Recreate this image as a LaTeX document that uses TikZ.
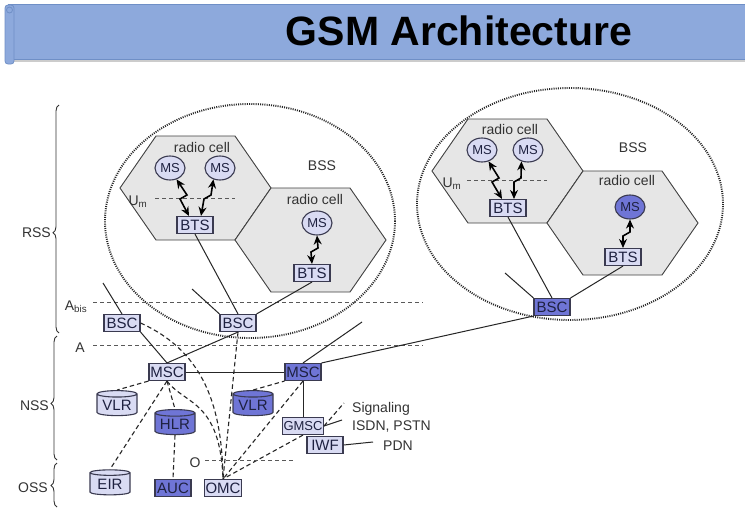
\documentclass[tikz,border=0pt]{standalone}
\usepackage{fontspec}
\setmainfont{Liberation Sans}
\usetikzlibrary{shapes.geometric,arrows.meta,decorations.pathreplacing}
\definecolor{lt}{HTML}{D9DBF3}
\definecolor{dk}{HTML}{6F75D6}
\definecolor{bd}{HTML}{3A3A50}
\definecolor{tx}{HTML}{1E2140}
\definecolor{hexfill}{HTML}{E6E6E6}
\definecolor{barfill}{HTML}{8DA9DC}
\definecolor{barline}{HTML}{6F8FC6}
\definecolor{lbl}{HTML}{333333}
\newcommand\pxf[1]{\fontsize{#1}{#1}\selectfont}
\newcommand\hexat[2]{\draw[hexstyle] (#1,#2) -- ++(36,-52) -- ++(79,0) -- ++(36,52) -- ++(-36,52) -- ++(-79,0) -- cycle;}
\begin{document}
\begin{tikzpicture}[x=1pt,y=-1pt,
  hexstyle/.style={fill=hexfill,draw=black!75,line width=0.9pt},
  bss/.style={draw=black!85,line width=1.9pt,dash pattern=on 1pt off 1.2pt},
  box/.style={rectangle,draw=bd,line width=1.1pt,fill=lt,inner sep=1pt,minimum width=36pt,minimum height=17pt,font=\pxf{15},text=tx},
  dbox/.style={box,fill=dk},
  msnode/.style={ellipse,draw=bd,line width=1.1pt,fill=lt,inner sep=0pt,minimum width=30pt,minimum height=24pt,font=\pxf{13},text=tx},
  dbnode/.style={cylinder,shape border rotate=90,aspect=0.22,draw=bd,line width=1.1pt,fill=lt,inner sep=0pt,minimum width=40pt,minimum height=25pt,font=\pxf{15},text=tx},
  ddbnode/.style={dbnode,fill=dk},
  conn/.style={draw=black!85,line width=1pt},
  dconn/.style={draw=black!85,line width=1.1pt,dash pattern=on 4.5pt off 3pt},
  iface/.style={draw=black!65,line width=1pt,dash pattern=on 4pt off 3pt},
  bolt/.style={line width=1.6pt,{Stealth[length=9pt,width=8pt]}-{Stealth[length=9pt,width=8pt]}},
  lab/.style={font=\pxf{14},text=lbl,inner sep=0pt},
  brc/.style={draw=black!80,line width=0.9pt,decorate}]
\useasboundingbox (0,0) rectangle (745,522);
\fill[white] (0,0) rectangle (745,522);
% title bar
\fill[black!20] (8,58) rectangle (745,62);
\draw[barline,fill=barfill,line width=0.8pt] (8,4) rectangle (746,59);
\draw[barline,fill=barfill,line width=0.8pt,rounded corners=3pt] (5,5) rectangle (14,64);
\draw[barline,line width=0.8pt] (9.5,10) circle (3);
\node[font=\pxf{41}\bfseries,text=black,inner sep=0pt] (title) at (459,31) {GSM Architecture};
% BSS ellipses
\draw[bss] (250,221) ellipse [x radius=145, y radius=117];
\draw[bss] (570,204) ellipse [x radius=153, y radius=116];
% hexagons
\hexat{120}{188}
\hexat{235}{240}
\hexat{432}{171}
\hexat{547}{223}
% interface lines
\draw[iface] (93,302) -- (423,302);
\draw[iface] (93,345) -- (423,345);
\draw[iface] (155,198) -- (235,198);
\draw[iface] (467,180) -- (547,180);
% labels
\node[lab] (rc1) at (202,147) {radio cell};
\node[lab] (rc2) at (315,199) {radio cell};
\node[lab] (rc3) at (510,129) {radio cell};
\node[lab] (rc4) at (627,180) {radio cell};
\node[lab] (bss1) at (322,166) {BSS};
\node[lab] (bss2) at (633,148) {BSS};
\node[lab] (um1) at (138,202) {U\textsubscript{m}};
\node[lab] (um2) at (452,184) {U\textsubscript{m}};
\node[lab,anchor=east] (rss) at (51,233) {RSS};
\node[lab,anchor=east] (nss) at (49,406) {NSS};
\node[lab,anchor=east] (oss) at (48,488) {OSS};
\node[lab] (abis) at (76,307) {A\textsubscript{bis}};
\node[lab] (alab) at (80,348) {A};
\node[lab] (olab) at (195,463) {O};
\node[lab,anchor=west] (sig) at (352,409) {Signaling};
\node[lab,anchor=west] (isdn) at (352,427) {ISDN, PSTN};
\node[lab,anchor=west] (pdn) at (383,446) {PDN};
% braces
\draw[brc,decoration={brace,amplitude=6pt,aspect=0.44}] (59,333) -- (59,105);
\draw[brc,decoration={brace,amplitude=6pt,aspect=0.455}] (57,460) -- (57,336);
\draw[brc,decoration={brace,amplitude=6pt,aspect=0.49}] (57,507) -- (57,463);
% nodes
\node[msnode] (ms1) at (170,168) {MS};
\node[msnode] (ms2) at (220,168) {MS};
\node[box] (bts1) at (195,225) {BTS};
\node[msnode] (ms3) at (317,223) {MS};
\node[box] (bts2) at (312,273) {BTS};
\node[msnode] (ms4) at (482,150) {MS};
\node[msnode] (ms5) at (528,150) {MS};
\node[box] (bts3) at (508,208) {BTS};
\node[msnode,fill=dk] (ms6) at (630,207) {MS};
\node[box] (bts4) at (623,257) {BTS};
\node[box] (bsc1) at (122,323) {BSC};
\node[box] (bsc2) at (238,323) {BSC};
\node[dbox] (bsc3) at (552,307) {BSC};
\node[box] (msc1) at (167,372) {MSC};
\node[dbox] (msc2) at (303,372) {MSC};
\node[dbnode] (vlr1) at (117,405) {VLR};
\node[ddbnode] (hlr) at (175,424) {HLR};
\node[ddbnode] (vlr2) at (253,405) {VLR};
\node[dbnode] (eir) at (110,484) {EIR};
\node[dbox] (auc) at (173,488) {AUC};
\node[box] (omc) at (223,488) {OMC};
\node[box,font=\pxf{13}] (gmsc) at (303,426) {GMSC};
\node[box] (iwf) at (325,445) {IWF};
% radio links
\draw[bolt] (ms1.-60) -- (187,195) -- (180,199) -- ([xshift=-6pt]bts1.north);
\draw[bolt] (ms2.-120) -- (211,195) -- (204,199) -- ([xshift=6pt]bts1.north);
\draw[bolt] (ms3.south) -- (318,248) -- (311,252) -- (bts2.north);
\draw[bolt] (ms4.-60) -- (499,178) -- (492,182) -- ([xshift=-6pt]bts3.north);
\draw[bolt] (ms5.-120) -- (521,178) -- (514,182) -- ([xshift=6pt]bts3.north);
\draw[bolt] (ms6.south) -- (630,232) -- (623,236) -- (bts4.north);
% stub ends
\coordinate (s1) at (103,283);
\coordinate (s2) at (192,289);
\coordinate (s3) at (362,322);
\coordinate (s4) at (505,273);
\coordinate (isdnend) at (342,420);
\coordinate (sigend) at (344,403);
\coordinate (pdnend) at (373,442);
\coordinate (o1) at (205,460);
\coordinate (o2) at (293,460);
% solid connectors
\draw[conn] (s1) -- (bsc1.north);
\draw[conn] (s2) -- (bsc2.north west);
\draw[conn] (bts1.south) -- (bsc2.north);
\draw[conn] (bts2.south) -- (bsc2.north east);
\draw[conn] (s4) -- (bsc3.north west);
\draw[conn] (bts3.south) -- (bsc3.north);
\draw[conn] (bts4.south) -- (bsc3.north east);
\draw[conn] (bsc1.south east) -- (msc1.north);
\draw[conn] (bsc2.south) -- (msc1.north);
\draw[conn] (msc1.east) -- (msc2.west);
\draw[conn] (s3) -- (msc2.north);
\draw[conn] (msc2.north east) -- (bsc3.south west);
\draw[conn] (msc2.south) -- (gmsc.north);
\draw[conn] (gmsc.east) -- (isdnend);
\draw[conn] (iwf.east) -- (pdnend);
% dashed connectors
\draw[dconn] (bsc1.east) .. controls (200,350) and (222,400) .. (omc.north);
\draw[dconn] (bsc2.south) -- (omc.north);
\draw[dconn] (msc1.south west) -- (vlr1.north);
\draw[dconn] (msc1.south) -- (eir.north);
\draw[dconn] (msc1.south) -- (hlr.north);
\draw[dconn] (msc1.south) .. controls (185,405) and (220,400) .. (omc.north);
\draw[dconn] (vlr2.north) -- (msc2.south west);
\draw[dconn] (msc2.south) -- (omc.north);
\draw[dconn] (gmsc.south) -- (omc.north);
\draw[dconn] (hlr.south) -- (auc.north);
\draw[dconn] (gmsc.east) -- (sigend);
\draw[iface] (o1) -- (o2);
\end{tikzpicture}
\end{document}
